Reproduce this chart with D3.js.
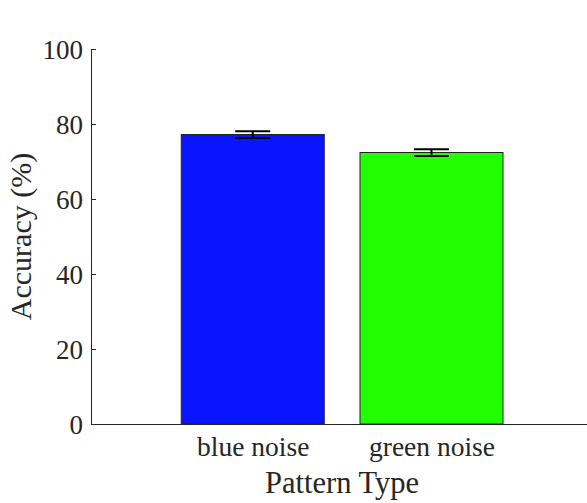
<!DOCTYPE html>
<html>
<head>
<meta charset="utf-8">
<script src="https://cdn.jsdelivr.net/npm/d3@7"></script>
<style>
  html, body { margin: 0; padding: 0; background: #fff; }
  svg { display: block; }
  text { font-family: "Liberation Serif", "Times New Roman", serif; fill: #262626; }
</style>
</head>
<body>
<svg id="chart" width="587" height="503"></svg>
<script>
// Accuracy per pattern type, with standard error
const categories = ["blue noise", "green noise"];
const accuracy = [77.2, 72.4];
const stdErr = [0.9, 0.9];
const barColors = ["#0a15ff", "#22ff00"];
const yTicks = [0, 20, 40, 60, 80, 100];

const svg = d3.select("#chart");
const W = 587, H = 503;
const axisLeft = 91, axisBottom = 424, axisTop = 49;

// x positions: category index 1..n mapped onto the plot area
const x = d3.scaleLinear().domain([0.095, 2.87]).range([axisLeft, W]);
const y = d3.scaleLinear().domain([0, 100]).range([axisBottom, axisTop]);
const barWidth = 0.8 * (x(2) - x(1));
const capHalf = 17.5;

// bars
svg.append("g").selectAll("rect")
  .data(accuracy)
  .join("rect")
  .attr("x", (d, i) => x(i + 1) - barWidth / 2)
  .attr("y", d => y(d))
  .attr("width", barWidth)
  .attr("height", d => y(0) - y(d))
  .attr("fill", (d, i) => barColors[i])
  .attr("stroke", "#222")
  .attr("stroke-width", 1);

// error bars
const eb = svg.append("g").attr("stroke", "#000").attr("stroke-width", 2);
accuracy.forEach((v, i) => {
  const cx = x(i + 1);
  const hi = y(v + stdErr[i]), lo = y(v - stdErr[i]);
  eb.append("line").attr("x1", cx).attr("x2", cx).attr("y1", hi).attr("y2", lo);
  eb.append("line").attr("x1", cx - capHalf).attr("x2", cx + capHalf).attr("y1", hi).attr("y2", hi);
  eb.append("line").attr("x1", cx - capHalf).attr("x2", cx + capHalf).attr("y1", lo).attr("y2", lo);
});

// y axis with inward ticks
const yAxis = d3.axisLeft(y).tickValues(yTicks).tickSize(-5).tickPadding(8).tickSizeOuter(0);
const gy = svg.append("g").attr("transform", `translate(${axisLeft},0)`).call(yAxis);
gy.select(".domain").attr("stroke", "#262626").attr("stroke-width", 1);
gy.selectAll(".tick line").attr("stroke", "#262626");
gy.selectAll(".tick text").attr("font-size", 27).attr("fill", "#262626")
  .attr("font-family", "Liberation Serif, serif").attr("dy", "0.34em");

// x axis line
const xAxis = d3.axisBottom(x).tickValues([1, 2]).tickFormat((d) => categories[d - 1])
  .tickSize(0).tickPadding(0).tickSizeOuter(0);
const gx = svg.append("g").attr("transform", `translate(0,${axisBottom})`).call(xAxis);
gx.select(".domain").attr("stroke", "#262626").attr("stroke-width", 1);
gx.selectAll(".tick text").attr("font-size", 27.5).attr("fill", "#262626")
  .attr("font-family", "Liberation Serif, serif").attr("dy", null).attr("y", 32);

// axis titles
svg.append("text")
  .attr("x", (x(1) + x(2)) / 2)
  .attr("y", 493)
  .attr("text-anchor", "middle")
  .attr("font-size", 30.5)
  .text("Pattern Type");

svg.append("text")
  .attr("transform", `translate(31,${(axisTop + axisBottom) / 2}) rotate(-90)`)
  .attr("text-anchor", "middle")
  .attr("font-size", 30)
  .text("Accuracy (%)");
</script>
</body>
</html>
